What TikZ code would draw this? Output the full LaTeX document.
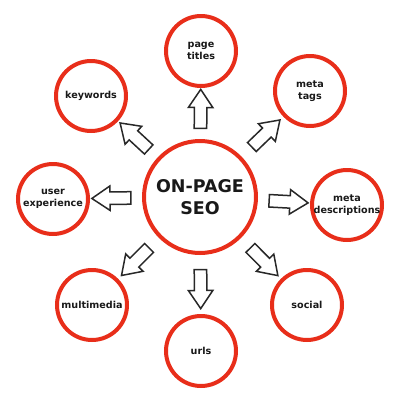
\documentclass[tikz,border=0pt]{standalone}
\usepackage{fontspec}
\setmainfont{DejaVu Sans}
\usetikzlibrary{shapes.arrows}
\definecolor{seored}{RGB}{232,46,26}
\definecolor{arrowgray}{RGB}{40,40,40}

\begin{document}
\begin{tikzpicture}[x=1pt,y=-1pt,
  topic/.style={circle,draw=seored,line width=4pt,fill=white,minimum size=70pt,inner sep=0pt,align=center,text=black!90,font=\fontsize{9.6}{11.5}\selectfont\bfseries},
  hub/.style={topic,minimum size=112pt,font=\fontsize{17.5}{22}\selectfont\bfseries},
  blockarrow/.style={single arrow,draw=arrowgray,fill=white,line width=1.5pt,minimum height=39pt,minimum width=23pt,single arrow head extend=6pt,single arrow tip angle=68,inner sep=5.5pt,sloped,allow upside down}]
\useasboundingbox (0,0) rectangle (400,400);
\node[hub] (seo) at (200,197) {ON-PAGE\\SEO};
\node[topic] (titles) at (201,51) {page\\titles};
\node[topic] (tags) at (310,91) {meta\\tags};
\node[topic] (desc) at (347,205) {meta\\descriptions};
\node[topic] (social) at (307,305) {social};
\node[topic] (urls) at (201,351) {urls};
\node[topic] (media) at (92,305) {multimedia};
\node[topic] (ux) at (53,199) {user\\experience};
\node[topic] (kw) at (91,96) {keywords};
% arrows sit halfway across each gap
\foreach \t in {titles,tags,desc,social,urls,media,ux,kw}
  \path (seo) -- (\t) node[blockarrow,midway] {};
\end{tikzpicture}
\end{document}
